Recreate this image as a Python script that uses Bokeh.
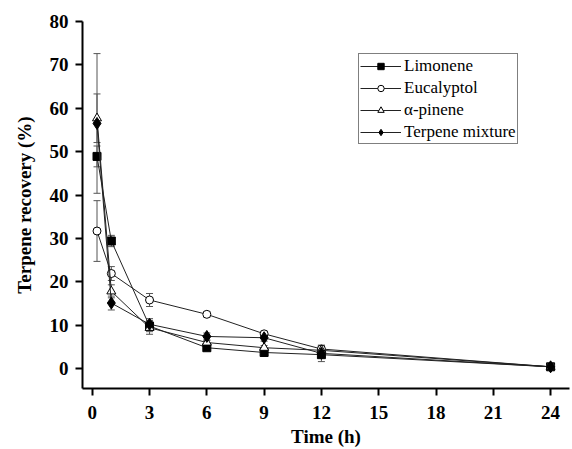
from bokeh.plotting import figure
from bokeh.models import ColumnDataSource, Whisker, TeeHead, FixedTicker, Legend
from bokeh.embed import file_html
from bokeh.resources import INLINE

# ---- data ----
time_h = [0.25, 1, 3, 6, 9, 12, 24]
limonene = [48.9, 29.4, 9.8, 4.8, 3.7, 3.2, 0.4]
limonene_err = [2.4, 1.3, 1.3, 0.5, 0.4, 0.5, 0.2]
eucalyptol = [31.7, 21.9, 15.8, 12.5, 8.0, 4.5, 0.4]
eucalyptol_err = [7.0, 1.6, 1.5, 0.6, 0.6, 0.8, 0.2]
alpha_pinene = [57.7, 17.8, 9.4, 6.0, 4.8, 4.2, 0.4]
alpha_pinene_err = [5.6, 1.5, 1.5, 0.5, 0.5, 0.8, 0.2]
terpene_mix = [56.5, 15.1, 10.2, 7.4, 7.1, 3.5, 0.4]
terpene_mix_err = [16.1, 1.6, 1.3, 0.8, 0.8, 1.9, 0.2]

x_ticks = [0, 3, 6, 9, 12, 15, 18, 21, 24]
y_ticks = [0, 10, 20, 30, 40, 50, 60, 70, 80]

FONT = "Times"

series = [
    ("Limonene", limonene, limonene_err, "square", 8, "black"),
    ("Eucalyptol", eucalyptol, eucalyptol_err, "circle", 8, "white"),
    ("\u03b1-pinene", alpha_pinene, alpha_pinene_err, "triangle", 9, "white"),
    ("Terpene mixture", terpene_mix, terpene_mix_err, "diamond", 12, "black"),
]

p = figure(width=571, height=449, x_range=(-0.51, 24.99), y_range=(-4.6, 80),
           output_backend="svg", toolbar_location=None,
           min_border_left=82, min_border_right=2, min_border_top=21, min_border_bottom=61)
p.outline_line_color = None
p.xgrid.grid_line_color = None
p.ygrid.grid_line_color = None

legend_items = []
for name, vals, errs, marker, size, fill in series:
    src = ColumnDataSource(dict(x=time_h, y=vals,
                                upper=[v + e for v, e in zip(vals, errs)],
                                lower=[v - e for v, e in zip(vals, errs)]))
    ln = p.line("x", "y", source=src, line_color="#222222", line_width=1)
    w = Whisker(base="x", upper="upper", lower="lower", source=src, dimension="height",
                line_color="#555555", line_width=1,
                upper_head=TeeHead(size=7, line_color="#555555", line_width=1),
                lower_head=TeeHead(size=7, line_color="#555555", line_width=1))
    p.add_layout(w)
    sc = p.scatter("x", "y", source=src, marker=marker, size=size,
                   fill_color=fill, line_color="black", line_width=1)
    legend_items.append((name, [ln, sc]))

legend = Legend(items=legend_items, location=(276, 244))
legend.label_text_font = FONT
legend.label_text_font_size = "17px"
legend.label_text_color = "black"
legend.label_height = 21
legend.glyph_height = 16
legend.glyph_width = 41
legend.label_standoff = 3
legend.spacing = 1
legend.padding = 1
legend.margin = 0
legend.border_line_color = "black"
legend.border_line_width = 1
legend.background_fill_alpha = 1
p.add_layout(legend)

for ax in (p.xaxis[0], p.yaxis[0]):
    ax.axis_line_width = 2
    ax.axis_line_color = "black"
    ax.major_tick_line_width = 2
    ax.major_tick_line_color = "black"
    ax.major_tick_out = 7
    ax.major_tick_in = 0
    ax.minor_tick_line_color = None
    ax.major_label_text_font = FONT
    ax.major_label_text_font_style = "bold"
    ax.major_label_text_font_size = "19px"
    ax.major_label_text_color = "black"
    ax.axis_label_text_font = FONT
    ax.axis_label_text_font_style = "bold"
    ax.axis_label_text_font_size = "19px"
    ax.axis_label_text_color = "black"

p.xaxis.ticker = FixedTicker(ticks=x_ticks)
p.yaxis.ticker = FixedTicker(ticks=y_ticks)
p.xaxis.axis_label = "Time (h)"
p.yaxis.axis_label = "Terpene recovery (%)"
p.xaxis.major_label_standoff = 10
p.xaxis.axis_label_standoff = 4
p.yaxis.major_label_standoff = 7
p.yaxis.axis_label_standoff = 12

open("out.html", "w").write(file_html(p, INLINE))
